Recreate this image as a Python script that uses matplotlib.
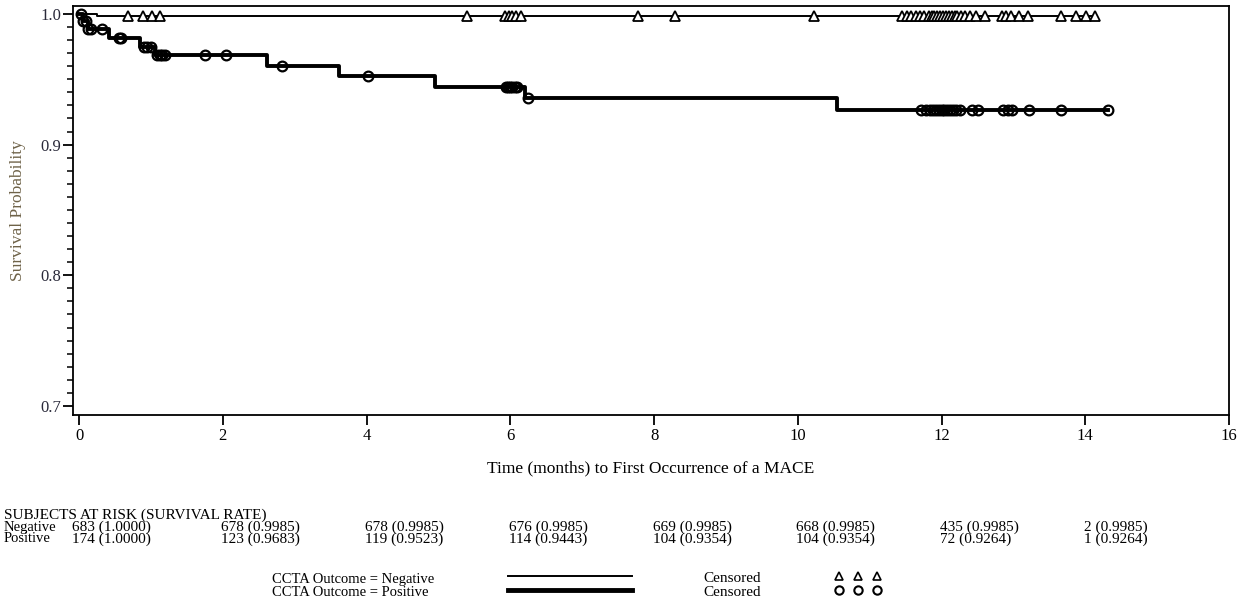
import numpy as np
import matplotlib
matplotlib.use("Agg")
import matplotlib.pyplot as plt
from matplotlib.lines import Line2D
from matplotlib.ticker import MultipleLocator

plt.rcParams['font.family'] = ['Liberation Serif', 'DejaVu Serif']

# Kaplan-Meier steps: (time in months, survival after the step)
neg_step_t = [0.0, 0.25]
neg_step_s = [1.0, 0.9985]
neg_end = 14.15
neg_cens = [0.68, 0.89, 1.02, 1.13, 5.40, 5.92, 5.98, 6.03, 6.08, 6.15, 7.78, 8.29, 10.22,
            11.45, 11.52, 11.58, 11.64, 11.70, 11.76, 11.82, 11.86, 11.90, 11.94, 11.98,
            12.02, 12.06, 12.10, 12.14, 12.18, 12.22, 12.27, 12.32, 12.40, 12.48, 12.60,
            12.84, 12.90, 12.96, 13.08, 13.20, 13.66, 13.87, 14.01, 14.13]

pos_step_t = [0.0, 0.05, 0.12, 0.42, 0.85, 1.05, 2.62, 3.62, 4.95, 6.20, 10.55]
pos_step_s = [1.0, 0.9943, 0.9885, 0.9815, 0.9748, 0.9683, 0.9603, 0.9523, 0.9443, 0.9354, 0.9264]
pos_end = 14.32
pos_cens = [0.03, 0.06, 0.09, 0.12, 0.16, 0.32, 0.55, 0.58, 0.90, 0.95, 1.00, 1.08, 1.12,
            1.16, 1.20, 1.75, 2.05, 2.82, 4.02, 5.94, 5.97, 6.00, 6.03, 6.06, 6.09, 6.25,
            11.72, 11.78, 11.84, 11.88, 11.92, 11.96, 12.00, 12.04, 12.08, 12.12, 12.16,
            12.20, 12.26, 12.42, 12.50, 12.86, 12.92, 12.98, 13.22, 13.66, 14.32]

# subjects at risk table
risk_times = [0, 2, 4, 6, 8, 10, 12, 14]
risk_neg = ["683 (1.0000)", "678 (0.9985)", "678 (0.9985)", "676 (0.9985)",
            "669 (0.9985)", "668 (0.9985)", "435 (0.9985)", "2 (0.9985)"]
risk_pos = ["174 (1.0000)", "123 (0.9683)", "119 (0.9523)", "114 (0.9443)",
            "104 (0.9354)", "104 (0.9354)", "72 (0.9264)", "1 (0.9264)"]


def surv_at(step_t, step_s, t):
    idx = np.searchsorted(step_t, t, side='right') - 1
    return np.asarray(step_s)[idx]


fig = plt.figure(figsize=(12.44, 6.09), dpi=100)
ax = fig.add_axes([0.0587, 0.3186, 0.9293, 0.6716])

# negative group: thin line, triangles
nt = list(neg_step_t) + [neg_end]
ns = list(neg_step_s) + [neg_step_s[-1]]
ax.step(nt, ns, where='post', color='black', lw=1.4)
ax.plot(neg_cens, surv_at(neg_step_t, neg_step_s, neg_cens), ls='none', marker='^',
        ms=6.5, mfc='white', mec='black', mew=1.3)

# positive group: thick line, circles
pt = list(pos_step_t) + [pos_end]
ps = list(pos_step_s) + [pos_step_s[-1]]
ax.step(pt, ps, where='post', color='black', lw=2.8)
ax.plot(pos_cens, surv_at(pos_step_t, pos_step_s, pos_cens), ls='none', marker='o',
        ms=7, mfc='none', mec='black', mew=1.6)

ax.set_xlim(-0.084, 16)
ax.set_ylim(0.6931, 1.0061)
ax.set_xticks(np.arange(0, 17, 2))
ax.set_yticks([0.7, 0.8, 0.9, 1.0])
ax.yaxis.set_minor_locator(MultipleLocator(0.01))
ax.set_yticklabels(['0.7', '0.8', '0.9', '1.0'])
ax.tick_params(axis='both', which='major', direction='out', length=7, width=1.3,
               labelsize=12)
ax.tick_params(axis='x', which='major', pad=2.5)
ax.tick_params(axis='y', which='major', pad=1.5)
ax.tick_params(axis='y', which='minor', direction='out', length=4, width=1.1)
ax.tick_params(axis='y', colors='black', labelcolor='#2a2a3a')
for sp in ax.spines.values():
    sp.set_linewidth(1.3)

ax.set_xlabel('Time (months) to First Occurrence of a MACE', fontsize=12.5, labelpad=12)
ax.set_ylabel('Survival Probability', fontsize=12.5, color='#6e6248', labelpad=10)

# at-risk table under the axis
tr = matplotlib.transforms.blended_transform_factory(ax.transData, fig.transFigure)
fs = 10.5
rows_y = [1 - 515 / 609, 1 - 527 / 609, 1 - 539 / 609]
fig.text(0.003, rows_y[0], 'SUBJECTS AT RISK (SURVIVAL RATE)', fontsize=fs + 0.5, va='center')
fig.text(0.003, rows_y[1], 'Negative', fontsize=fs, va='center')
fig.text(0.003, rows_y[2], 'Positive', fontsize=fs, va='center')
for t, a, b in zip(risk_times, risk_neg, risk_pos):
    x0 = t - 0.1 if t == 0 else t - 0.02
    ax.text(x0, rows_y[1], a, transform=tr, fontsize=fs + 0.5, va='center', clip_on=False)
    ax.text(x0, rows_y[2], b, transform=tr, fontsize=fs + 0.5, va='center', clip_on=False)

# legend
fsl = 10.5
y1 = 1 - 579 / 609
y2 = 1 - 592 / 609
fig.text(272 / 1244, y1, 'CCTA Outcome = Negative', fontsize=fsl, va='center')
fig.text(272 / 1244, y2, 'CCTA Outcome = Positive', fontsize=fsl, va='center')
fig.add_artist(Line2D([508 / 1244, 632 / 1244], [1 - 576 / 609] * 2, color='black', lw=1.4,
                      transform=fig.transFigure))
fig.add_artist(Line2D([508 / 1244, 632 / 1244], [1 - 590 / 609] * 2, color='black', lw=3.5,
                      transform=fig.transFigure))
fig.text(703 / 1244, y1, 'Censored', fontsize=fsl + 0.5, va='center')
fig.text(703 / 1244, y2, 'Censored', fontsize=fsl + 0.5, va='center')
mx = [839 / 1244, 858 / 1244, 877 / 1244]
fig.add_artist(Line2D(mx, [1 - 576 / 609] * 3, ls='none', marker='^', ms=6, mfc='white',
                      mec='black', mew=1.2, transform=fig.transFigure))
fig.add_artist(Line2D(mx, [1 - 590 / 609] * 3, ls='none', marker='o', ms=6, mfc='white',
                      mec='black', mew=1.5, transform=fig.transFigure))

fig.savefig('out.png', dpi=100)
